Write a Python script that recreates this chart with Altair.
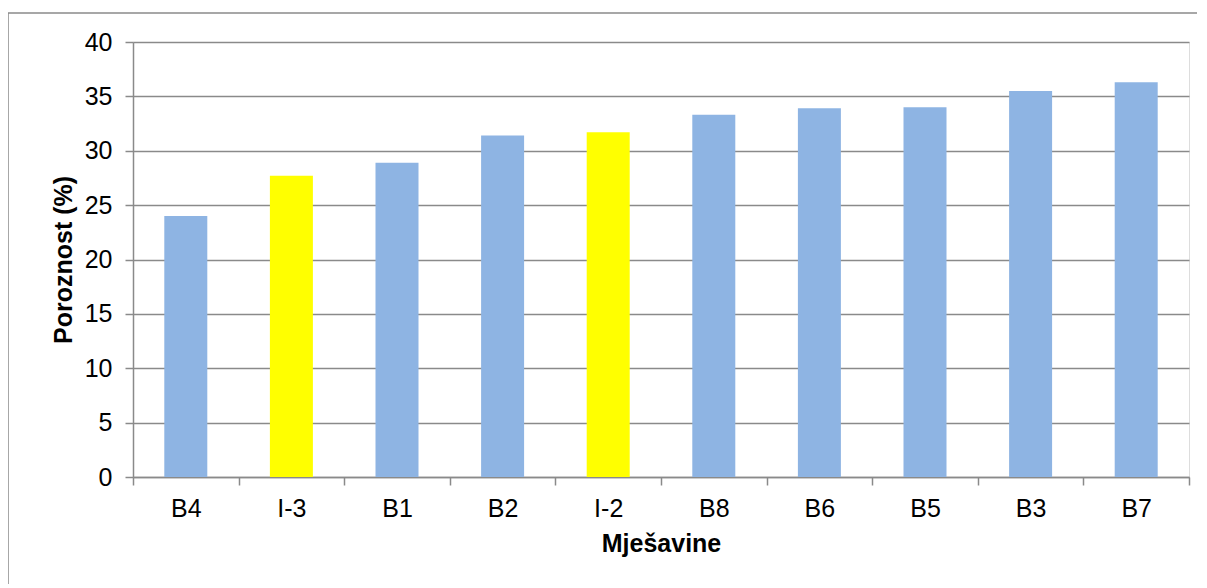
import altair as alt
import pandas as pd

categories = ["B4", "I-3", "B1", "B2", "I-2", "B8", "B6", "B5", "B3", "B7"]
values = [24.0, 27.7, 28.9, 31.4, 31.7, 33.3, 33.9, 34.0, 35.5, 36.3]
groups = ["B", "I", "B", "B", "I", "B", "B", "B", "B", "B"]
group_names = ["B", "I"]
group_colors = ["#8EB4E3", "#FFFF00"]

df = pd.DataFrame({"Mješavina": categories, "Poroznost": values, "Grupa": groups})

FONT = "Liberation Sans"
GRAY = "#8a8a8a"

bars = alt.Chart(df).mark_bar(size=43).encode(
    x=alt.X(
        "Mješavina:N",
        sort=categories,
        scale=alt.Scale(paddingInner=0, paddingOuter=0),
        axis=alt.Axis(
            title="Mješavine",
            labelAngle=0,
            tickBand="extent",
            tickSize=8,
            tickColor=GRAY,
            tickWidth=1.5,
            domainColor=GRAY,
            domainWidth=1.5,
            labelFont=FONT,
            labelFontSize=25,
            labelColor="#000000",
            labelPadding=11,
            titleFont=FONT,
            titleFontSize=25,
            titleFontWeight="bold",
            titleColor="#000000",
            titlePadding=10,
            grid=False,
        ),
    ),
    y=alt.Y(
        "Poroznost:Q",
        scale=alt.Scale(domain=[0, 40], nice=False),
        axis=alt.Axis(
            title="Poroznost (%)",
            values=[0, 5, 10, 15, 20, 25, 30, 35, 40],
            tickSize=8,
            tickColor=GRAY,
            tickWidth=1.5,
            domainColor=GRAY,
            domainWidth=1.5,
            gridColor=GRAY,
            gridWidth=1.5,
            grid=True,
            labelFont=FONT,
            labelFontSize=25,
            labelColor="#000000",
            labelPadding=13,
            titleFont=FONT,
            titleFontSize=25,
            titleFontWeight="bold",
            titleColor="#000000",
            titlePadding=8,
        ),
    ),
    color=alt.Color(
        "Grupa:N",
        scale=alt.Scale(domain=group_names, range=group_colors),
        legend=None,
    ),
)

frame_df = pd.DataFrame({"k": [0]})
frame_left = alt.Chart(frame_df).mark_rule(color=GRAY, strokeWidth=1.5).encode(
    x=alt.value(-125), y=alt.value(-29), y2=alt.value(600)
)
frame_top = alt.Chart(frame_df).mark_rule(color=GRAY, strokeWidth=1.5).encode(
    x=alt.value(-125), x2=alt.value(1200), y=alt.value(-29)
)

chart = alt.layer(bars, frame_left, frame_top).properties(
    width=1056,
    height=435,
    autosize=alt.AutoSizeParams(type="none"),
    padding={"left": 125, "top": 34, "right": 8, "bottom": 107},
).configure_view(stroke=None).configure(background="white")

chart.save("out.html", embed_options={"renderer": "svg", "actions": False})
